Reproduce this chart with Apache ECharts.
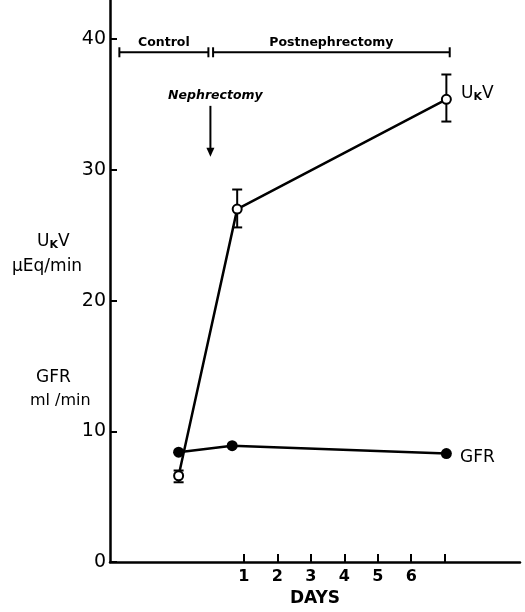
<!DOCTYPE html>
<html>
<head>
<meta charset="utf-8">
<script src="https://cdn.jsdelivr.net/npm/echarts@6/dist/echarts.min.js"></script>
<style>html,body{margin:0;padding:0;background:#fff}#c{width:525px;height:612px}</style>
</head>
<body>
<div id="c"></div>
<script>
// Data (x in days relative to nephrectomy; y values)
const ukvDays = [-0.95, 0.8, 7.05];
const ukvValues = [6.6, 27.0, 35.4];
const ukvErrLow = [6.1, 25.6, 33.7];
const ukvErrHigh = [7.0, 28.5, 37.3];
const gfrDays = [-0.95, 0.65, 7.05];
const gfrValues = [8.4, 8.9, 8.3];
const xTickValues = [1, 2, 3, 4, 5, 6, 7];
const xTickLabels = [1, 2, 3, 4, 5, 6];
const yTickValues = [0, 10, 20, 30, 40];
// period brackets: [start, end, level]
const periodNames = ['Control', 'Postnephrectomy'];
const periodStart = [-2.72, 0.08];
const periodEnd = [-0.06, 7.15];
const periodLevel = 39;
// nephrectomy arrow [x, yFrom, yTo]
const arrowX = 0;
const arrowFrom = 34.9;
const arrowTo = 31.0;

const FONT = 'DejaVu Sans';
const chart = echarts.init(document.getElementById('c'));

const pair = (xs, ys) => xs.map((x, i) => [x, ys[i]]);

chart.setOption({
  animation: false,
  backgroundColor: '#fff',
  grid: { left: 110, right: 5, top: 0, bottom: 46 },
  xAxis: {
    type: 'value', min: -3, max: 9.25,
    name: 'DAYS', nameLocation: 'middle', nameGap: 28,
    nameTextStyle: { color: '#000', fontFamily: FONT, fontWeight: 'bold', fontSize: 17 },
    splitLine: { show: false },
    axisLine: { onZero: false, lineStyle: { color: '#000', width: 2.5 } },
    axisTick: { inside: true, length: 8, customValues: xTickValues, lineStyle: { color: '#000', width: 2 } },
    axisLabel: { customValues: xTickLabels, color: '#000', fontFamily: FONT, fontWeight: 'bold', fontSize: 16, margin: 7 }
  },
  yAxis: {
    type: 'value', min: 0, max: 43,
    splitLine: { show: false },
    axisLine: { onZero: false, lineStyle: { color: '#000', width: 2.5 } },
    axisTick: { inside: true, length: 7, customValues: yTickValues, lineStyle: { color: '#000', width: 2 } },
    axisLabel: { customValues: yTickValues, color: '#000', fontFamily: FONT, fontSize: 19, margin: 4 }
  },
  series: [
    {
      type: 'line', data: pair(gfrDays, gfrValues), symbol: 'circle', symbolSize: 11,
      lineStyle: { color: '#000', width: 2.5 }, itemStyle: { color: '#000' }, z: 3
    },
    {
      type: 'line', data: pair(ukvDays, ukvValues), symbol: 'circle', symbolSize: 9,
      lineStyle: { color: '#000', width: 2.5 }, itemStyle: { color: '#fff', borderColor: '#000', borderWidth: 2 }, z: 4
    },
    {
      type: 'custom', z: 2,
      data: ukvDays.map((x, i) => [x, ukvErrLow[i], ukvErrHigh[i]]),
      renderItem: function (params, api) {
        const lo = api.coord([api.value(0), api.value(1)]);
        const hi = api.coord([api.value(0), api.value(2)]);
        const w = 5;
        const st = { stroke: '#000', lineWidth: 2 };
        return { type: 'group', children: [
          { type: 'line', shape: { x1: lo[0], y1: lo[1], x2: hi[0], y2: hi[1] }, style: st },
          { type: 'line', shape: { x1: lo[0] - w, y1: lo[1], x2: lo[0] + w, y2: lo[1] }, style: st },
          { type: 'line', shape: { x1: hi[0] - w, y1: hi[1], x2: hi[0] + w, y2: hi[1] }, style: st }
        ]};
      }
    },
    {
      type: 'custom', z: 2,
      data: periodNames.map((n, i) => [periodStart[i], periodEnd[i], periodLevel, n]),
      renderItem: function (params, api) {
        const a = api.coord([api.value(0), api.value(2)]);
        const b = api.coord([api.value(1), api.value(2)]);
        const h = 5;
        const st = { stroke: '#000', lineWidth: 2 };
        return { type: 'group', children: [
          { type: 'line', shape: { x1: a[0], y1: a[1], x2: b[0], y2: b[1] }, style: st },
          { type: 'line', shape: { x1: a[0], y1: a[1] - h, x2: a[0], y2: a[1] + h }, style: st },
          { type: 'line', shape: { x1: b[0], y1: b[1] - h, x2: b[0], y2: b[1] + h }, style: st },
          { type: 'text', x: (a[0] + b[0]) / 2, y: a[1] - 3,
            style: { text: api.value(3), fill: '#000', font: 'bold 12.5px "' + FONT + '"', textAlign: 'center', textVerticalAlign: 'bottom' } }
        ]};
      }
    },
    {
      type: 'custom', z: 2,
      data: [[arrowX, arrowFrom, arrowTo]],
      renderItem: function (params, api) {
        const a = api.coord([api.value(0), api.value(1)]);
        const b = api.coord([api.value(0), api.value(2)]);
        return { type: 'group', children: [
          { type: 'line', shape: { x1: a[0], y1: a[1], x2: b[0], y2: b[1] - 6 }, style: { stroke: '#000', lineWidth: 2 } },
          { type: 'polygon', shape: { points: [[b[0] - 4, b[1] - 9], [b[0] + 4, b[1] - 9], [b[0], b[1]]] }, style: { fill: '#000' } },
          { type: 'text', x: a[0] + 5, y: a[1] - 4,
            style: { text: 'Nephrectomy', fill: '#000', font: 'italic bold 12.5px "' + FONT + '"', textAlign: 'center', textVerticalAlign: 'bottom' } }
        ]};
      }
    }
  ],
  graphic: [
    { type: 'text', left: 37, top: 233, style: { text: '{a|U}{b|K}{a|V}', rich: { a: { fontSize: 17, fontFamily: FONT, color: '#000' }, b: { fontSize: 11, fontFamily: FONT, fontWeight: 'bold', color: '#000', padding: [8, 0, 0, 0] } } } },
    { type: 'text', left: 12, top: 258, style: { text: 'μEq/min', font: '17px "' + FONT + '"', fill: '#000' } },
    { type: 'text', left: 36, top: 369, style: { text: 'GFR', font: '17px "' + FONT + '"', fill: '#000' } },
    { type: 'text', left: 30, top: 393, style: { text: 'ml /min', font: '16px "' + FONT + '"', fill: '#000' } },
    { type: 'text', left: 461, top: 85, style: { text: '{a|U}{b|K}{a|V}', rich: { a: { fontSize: 17, fontFamily: FONT, color: '#000' }, b: { fontSize: 11, fontFamily: FONT, fontWeight: 'bold', color: '#000', padding: [8, 0, 0, 0] } } } },
    { type: 'text', left: 460, top: 449, style: { text: 'GFR', font: '17px "' + FONT + '"', fill: '#000' } }
  ]
});
</script>
</body>
</html>
